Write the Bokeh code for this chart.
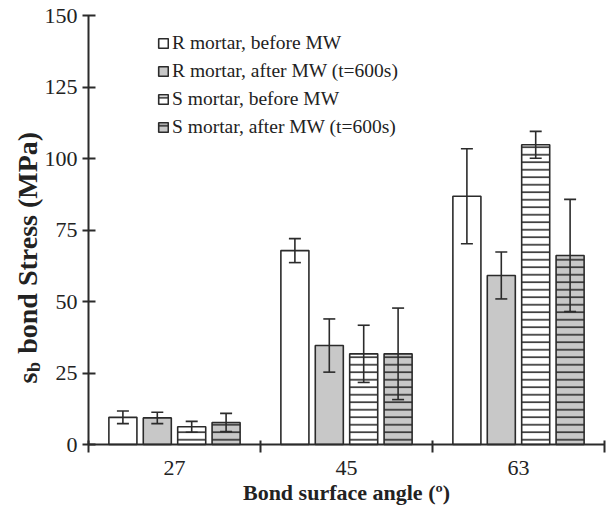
import math
from bokeh.plotting import figure
from bokeh.models import (ColumnDataSource, Range1d, FixedTicker, Whisker, TeeHead,
                          Label, Legend, LegendItem)
from bokeh.embed import file_html
from bokeh.resources import INLINE

# ---- data ----
angles = ["27", "45", "63"]
series_names = ["R mortar, before MW", "R mortar, after MW (t=600s)",
                "S mortar, before MW", "S mortar, after MW (t=600s)"]
r_before = [9.5, 67.8, 86.8]
r_before_err = [2.2, 4.2, 16.6]
r_after = [9.3, 34.6, 59.1]
r_after_err = [2.0, 9.3, 8.2]
s_before = [6.2, 31.7, 104.8]
s_before_err = [1.9, 10.0, 4.7]
s_after = [7.7, 31.7, 66.1]
s_after_err = [3.2, 16.0, 19.6]
y_ticks = [0, 25, 50, 75, 100, 125, 150]

values = [r_before, r_after, s_before, s_after]
errors = [r_before_err, r_after_err, s_before_err, s_after_err]

# ---- layout / styles ----
W, H = 613, 509
ax_left, ax_right, ax_top, ax_bottom = 88, 604, 15, 444   # pixel position of axes
n = len(angles)
y_max = 150
px_x = (ax_right - ax_left) / n
px_y = (ax_bottom - ax_top) / y_max
x_lo = -ax_left / px_x
x_hi = n + (W - ax_right) / px_x
y_lo = -(H - ax_bottom) / px_y
y_hi = y_max + ax_top / px_y

offsets = [-0.3, -0.1, 0.1, 0.3]
bar_w = 0.163
fills = ["white", "#c8c8c8", "white", "#c8c8c8"]
hatches = [None, None, "horizontal_line", "horizontal_line"]
dark = "#2b2b2b"
txt = "#222222"
SERIF = "Liberation Serif"

p = figure(width=W, height=H, output_backend="svg", toolbar_location=None,
           x_range=Range1d(x_lo, x_hi), y_range=Range1d(y_lo, y_hi),
           min_border=0)
p.title.visible = False
p.outline_line_color = None
p.xgrid.visible = False
p.ygrid.visible = False
p.background_fill_color = "white"
p.border_fill_color = "white"

centers = [i + 0.5 for i in range(n)]
items = []
for k in range(4):
    xs = [c + offsets[k] for c in centers]
    src = ColumnDataSource(dict(x=xs, top=values[k],
                                upper=[v + e for v, e in zip(values[k], errors[k])],
                                lower=[v - e for v, e in zip(values[k], errors[k])]))
    kw = {}
    if hatches[k]:
        kw = dict(hatch_pattern=hatches[k], hatch_color=dark, hatch_weight=1.6,
                  hatch_scale=7.5)
    r = p.vbar(x="x", top="top", width=bar_w, bottom=0, source=src,
               fill_color=fills[k], line_color=dark, line_width=1.6, **kw)
    items.append(LegendItem(label=series_names[k], renderers=[r]))
    w = Whisker(base="x", upper="upper", lower="lower", source=src,
                line_color=dark, line_width=1.6, level="overlay",
                upper_head=TeeHead(size=12, line_color=dark, line_width=1.6),
                lower_head=TeeHead(size=12, line_color=dark, line_width=1.6))
    p.add_layout(w)

legend = Legend(items=items, location=(157, H - 138), orientation="vertical",
                border_line_color=None, background_fill_alpha=0,
                label_text_font=SERIF, label_text_font_size="19.5px",
                label_text_color=txt, glyph_width=12, glyph_height=12,
                label_height=22, label_standoff=3, spacing=6, padding=0, margin=0)
p.add_layout(legend)

# ---- axes (drawn at fixed data positions) ----
xa = p.xaxis[0]
xa.fixed_location = 0
xa.bounds = (0, n)
xa.ticker = FixedTicker(ticks=centers, minor_ticks=list(range(n + 1)))
xa.major_label_overrides = {c: a for c, a in zip(centers, angles)}
xa.major_tick_in = 0
xa.major_tick_out = 0
xa.minor_tick_in = 4
xa.minor_tick_out = 8
xa.minor_tick_line_color = dark
xa.minor_tick_line_width = 2
xa.axis_line_color = dark
xa.axis_line_width = 2
xa.major_label_text_font = SERIF
xa.major_label_text_font_size = "22px"
xa.major_label_text_color = txt
xa.major_label_standoff = 8

ya = p.yaxis[0]
ya.fixed_location = 0
ya.bounds = (0, y_max)
ya.ticker = FixedTicker(ticks=y_ticks, minor_ticks=[])
ya.major_tick_in = 7
ya.major_tick_out = 6
ya.major_tick_line_color = dark
ya.major_tick_line_width = 2
ya.axis_line_color = dark
ya.axis_line_width = 2
ya.major_label_text_font = SERIF
ya.major_label_text_font_size = "22px"
ya.major_label_text_color = txt
ya.major_label_standoff = 5

# ---- axis titles (manual, to allow the subscript) ----
p.add_layout(Label(x=346, y=H - 492, x_units="screen", y_units="screen",
                   text="Bond surface angle (º)", text_align="center",
                   text_baseline="alphabetic", text_font=SERIF,
                   text_font_style="bold", text_font_size="22px",
                   text_color=txt))

F = 28.0
bx = 27
y0 = H - 383
p.add_layout(Label(x=bx, y=y0, x_units="screen", y_units="screen", text="s",
                   angle=math.pi / 2, text_align="left", text_baseline="alphabetic",
                   text_font=SERIF, text_font_style="bold", text_font_size=f"{F}px",
                   text_color=txt))
p.add_layout(Label(x=bx + 0.22 * F, y=y0 + 0.41 * F, x_units="screen", y_units="screen",
                   text="b", angle=math.pi / 2, text_align="left",
                   text_baseline="alphabetic", text_font=SERIF,
                   text_font_style="bold", text_font_size=f"{0.65 * F}px",
                   text_color=txt))
p.add_layout(Label(x=bx, y=y0 + 0.41 * F + 0.38 * F + 0.27 * F, x_units="screen",
                   y_units="screen", text="bond Stress (MPa)", angle=math.pi / 2,
                   text_align="left", text_baseline="alphabetic", text_font=SERIF,
                   text_font_style="bold", text_font_size=f"{F}px",
                   text_color=txt))

open("out.html", "w").write(file_html(p, INLINE))
